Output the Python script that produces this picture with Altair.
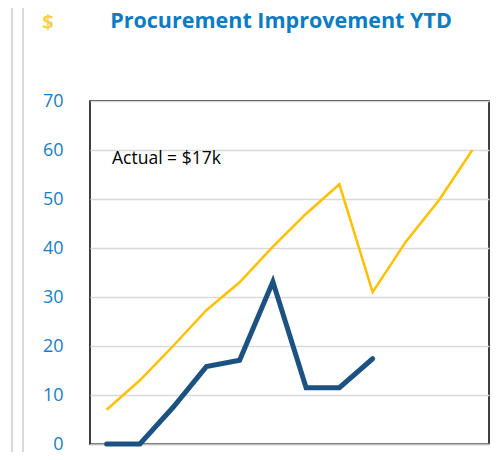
import altair as alt
import pandas as pd

months = ["Jan", "Feb", "Mar", "Apr", "May", "Jun",
          "Jul", "Aug", "Sep", "Oct", "Nov", "Dec"]
target = [7, 13, 20, 27.3, 33, 40.3, 47, 53, 31, 41.3, 49.8, 60]
actual = [0, 0, 7.5, 15.8, 17.1, 33.1, 11.5, 11.5, 17.4, None, None, None]
y_ticks = [0, 10, 20, 30, 40, 50, 60, 70]

title_text = "Procurement Improvement YTD"
note_text = "Actual = $17k"

df = pd.DataFrame({"month": months, "target": target, "actual": actual})

FONT = "Open Sans"

x_enc = alt.X("month:O", sort=months,
              scale=alt.Scale(type="point", padding=0.5),
              axis=alt.Axis(labels=False, ticks=False, title=None,
                            domain=True, domainColor="#bfbfbf", domainWidth=1.5))
y_scale = alt.Scale(domain=[0, 70], nice=False)

base = alt.Chart(df)

target_line = base.mark_line(color="#FFC000", strokeWidth=2.5).encode(
    x=x_enc,
    y=alt.Y("target:Q", scale=y_scale,
            axis=alt.Axis(values=y_ticks, title=None, ticks=False, tickSize=0,
                          domain=False, grid=True, gridColor="#d9d9d9",
                          gridWidth=1.5, labelColor="#1a7dc2",
                          labelFontSize=18, labelFont=FONT,
                          labelPadding=27)),
)

actual_line = base.mark_line(color="#1c5282", strokeWidth=5,
                             strokeCap="round", strokeJoin="miter").encode(
    x=alt.X("month:O", sort=months),
    y=alt.Y("actual:Q"),
)

note = alt.Chart(pd.DataFrame({"t": [note_text]})).mark_text(
    align="left", baseline="middle", fontSize=17.5, font=FONT, color="#000000"
).encode(x=alt.value(22), y=alt.value(58), text="t:N")

title = alt.Chart(pd.DataFrame({"t": [title_text]})).mark_text(
    align="center", baseline="alphabetic", fontSize=21.5, font=FONT,
    fontWeight="bold", color="#0a7cc4"
).encode(x=alt.value(191), y=alt.value(-73), text="t:N")

dollar = alt.Chart(pd.DataFrame({"t": ["$"]})).mark_text(
    align="center", baseline="alphabetic", fontSize=20, font=FONT,
    fontWeight="bold", color="#f5d24a"
).encode(x=alt.value(-42), y=alt.value(-72), text="t:N")

edge1 = alt.Chart(pd.DataFrame({"k": [1]})).mark_rule(
    color="#d9d9d9", strokeWidth=2
).encode(x=alt.value(-78), y=alt.value(-101), y2=alt.value(359))
edge2 = alt.Chart(pd.DataFrame({"k": [1]})).mark_rule(
    color="#d9d9d9", strokeWidth=2
).encode(x=alt.value(-67), y=alt.value(-101), y2=alt.value(359))

chart = alt.layer(target_line, actual_line, note, title, dollar, edge1, edge2).properties(
    width=399, height=343,
    autosize=alt.AutoSizeParams(type="none"),
    padding={"left": 82, "top": 93, "right": 1, "bottom": 8},
    background="white",
).configure_view(stroke="#000000", strokeWidth=1.5)

chart.save("out.html", embed_options={"renderer": "svg", "actions": False})
